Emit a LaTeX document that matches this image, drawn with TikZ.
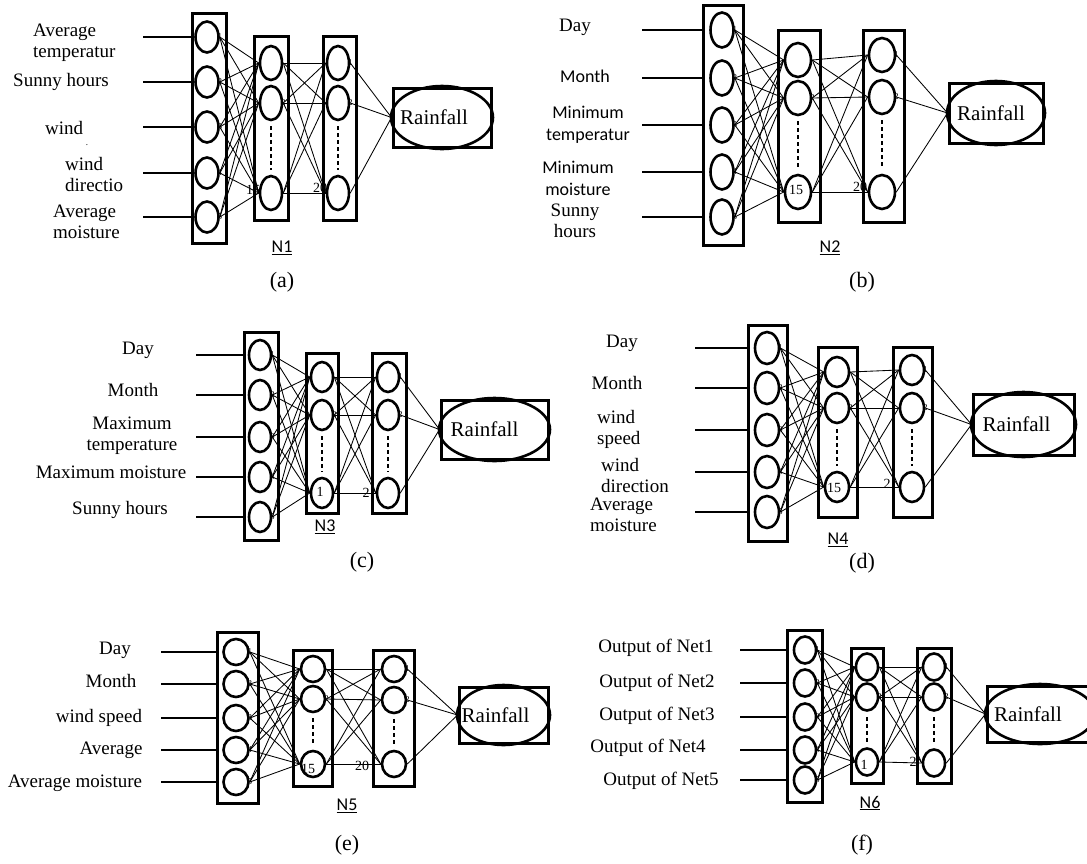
\documentclass[tikz,border=0pt]{standalone}
\usepackage{fontspec}
\setmainfont{Liberation Serif}
\newfontfamily\calfont{Carlito}
\usetikzlibrary{shapes.geometric}
\tikzset{
 layerbox/.style={draw, rectangle, line width=3pt, inner sep=0pt},
 neur/.style={draw, ellipse, line width=2.6pt, inner sep=0pt},
 conn/.style={line width=0.85pt},
 inputline/.style={line width=1.3pt},
 dotline/.style={line width=1.8pt, dash pattern=on 4pt off 3pt, shorten <=5pt, shorten >=5pt},
 lab/.style={font=\fontsize{19}{21}\selectfont, align=center, inner sep=0pt},
 sanslab/.style={font=\calfont\fontsize{18}{22}\selectfont, align=center, inner sep=0pt},
 numlab/.style={font=\fontsize{9}{9}\selectfont, inner sep=0pt},
 hidlab/.style={font=\fontsize{14}{14}\selectfont, inner sep=0pt},
 rainlab/.style={font=\fontsize{21}{23}\selectfont, inner sep=0pt},
 captext/.style={font=\fontsize{22}{24}\selectfont, inner sep=0pt},
 nlab/.style={font=\calfont\fontsize{18}{20}\selectfont, inner sep=0pt},
}
\newcommand\buildnet[1]{%
 \node[layerbox, minimum width=\nnIw pt, minimum height=\nnIh pt] (#1in) at (\nnIcx,\nnIcy) {};
 \foreach \yy [count=\k] in \nnIys {%
   \node[neur, minimum width=\nnEw pt, minimum height=\nnEh pt] (#1i\k) at (\nnIx,\yy) {};
   \node[numlab] (#1n\k) at (#1i\k.east) {\k};
   \coordinate (#1s\k) at (\nnSx,\yy);
   \draw[inputline] (#1s\k) -- (#1in.west |- #1i\k);
 }
 \node[layerbox, minimum width=\nnHw pt, minimum height=\nnHh pt] (#1hb) at (\nnHcx,\nnHcy) {};
 \foreach \yy [count=\k] in \nnHys {\node[neur, minimum width=\nnFw pt, minimum height=\nnFh pt] (#1h\k) at (\nnHx,\yy) {};}
 \node[layerbox, minimum width=\nnGw pt, minimum height=\nnHh pt] (#1gb) at (\nnGcx,\nnHcy) {};
 \foreach \yy [count=\k] in \nnGys {\node[neur, minimum width=\nnFw pt, minimum height=\nnFh pt] (#1g\k) at (\nnGx,\yy) {};}
 \node[layerbox, minimum width=\nnRw pt, minimum height=\nnRh pt] (#1rb) at (\nnRcx,\nnRcy) {};
 \node[neur, minimum width=\nnRw pt+4pt, minimum height=\nnRh pt+4pt] (#1re) at (#1rb.center) {};
 \node[rainlab] (#1rt) at ([xshift=\nnRs pt]#1rb.center) {Rainfall};
 \foreach \a in {1,...,5}{\foreach \b in {1,2,3}{\draw[conn] (#1i\a.east) -- (#1h\b.west);}}
 \foreach \a in {1,2,3}{\foreach \b in {1,2,3}{\draw[conn] (#1h\a.east) -- (#1g\b.west);}}
 \foreach \a in {1,2,3}{\draw[conn] (#1g\a.east) -- (#1rb.west);}
 \draw[dotline] (#1h2.south) -- (#1h3.north);
 \draw[dotline] (#1g2.south) -- (#1g3.north);
 \node[numlab] (#1hn2) at (#1h2.east) {2};
 \node[numlab] (#1gn1) at (#1g1.east) {1};
 \node[numlab] (#1gn2) at (#1g2.east) {2};
}
\begin{document}
\begin{tikzpicture}[x=1pt,y=-1pt]
\useasboundingbox (0,0) rectangle (1087,863);
% ---------------- (a)
\def\nnIcx{209}\def\nnIcy{128}\def\nnIw{34}\def\nnIh{230}\def\nnIx{207}\def\nnIys{37,82,127,173,217}\def\nnEw{23}\def\nnEh{31}\def\nnSx{143}
\def\nnHcx{271}\def\nnHcy{128}\def\nnHw{34}\def\nnHh{184}\def\nnHx{271}\def\nnHys{63,103,193}\def\nnFw{22}\def\nnFh{34}
\def\nnGcx{339.5}\def\nnGw{33}\def\nnGx{338}\def\nnGys{63,103,193}
\def\nnRcx{442}\def\nnRcy{117.5}\def\nnRw{98}\def\nnRh{59}\def\nnRs{-8}
\buildnet{a}
\node[lab, align=left, anchor=west] (al1) at (33,43) {Average\\temperatur};
\node[lab, anchor=west] (al2) at (13,82) {Sunny hours};
\node[lab, anchor=west] (al3) at (45,128) {wind};
\node[numlab] (al3d) at (87,145) {.};
\node[lab, align=left, anchor=west] (al4) at (65,174) {wind\\directio};
\node[lab, align=left, anchor=west] (al5) at (53,222) {Average\\moisture};
\node[hidlab] (ah15) at (253,190) {15};
\node[hidlab] (ag20) at (320,188) {20};
\node[nlab] (aN) at (282,248) {\underline{N1}};
\node[captext] (acap) at (282,282) {(a)};
% ---------------- (b)
\def\nnIcx{723}\def\nnIcy{125}\def\nnIw{40}\def\nnIh{240}\def\nnIx{722}\def\nnIys{30,78,125,172,217}\def\nnEw{23}\def\nnEh{35}\def\nnSx{642}
\def\nnHcx{799}\def\nnHcy{126}\def\nnHw{42}\def\nnHh{192}\def\nnHx{798}\def\nnHys{60,98,192}\def\nnFw{26}\def\nnFh{34}
\def\nnGcx{883.5}\def\nnGw{41}\def\nnGx{882}\def\nnGys{55,97,192}
\def\nnRcx{996}\def\nnRcy{113}\def\nnRw{94}\def\nnRh{60}\def\nnRs{-5}
\buildnet{b}
\node[lab] (bl1) at (575,27) {Day};
\node[sanslab] (bl2) at (585,76) {Month};
\node[sanslab] (bl3) at (588,125) {Minimum\\temperatur};
\node[sanslab] (bl4) at (578,178) {Minimum\\moisture};
\node[lab] (bl5) at (575,221) {Sunny\\hours};
\node[hidlab] (bh15) at (796,190) {15};
\node[hidlab] (bg20) at (860,187) {20};
\node[nlab] (bN) at (830,248) {\underline{N2}};
\node[captext] (bcap) at (862,282) {(b)};
% ---------------- (c)
\def\nnIcx{261}\def\nnIcy{436}\def\nnIw{34}\def\nnIh{208}\def\nnIx{260}\def\nnIys{355,395,437,477,517}\def\nnEw{22}\def\nnEh{30}\def\nnSx{196}
\def\nnHcx{322}\def\nnHcy{433}\def\nnHw{32}\def\nnHh{160}\def\nnHx{322}\def\nnHys{377,415,493}\def\nnFw{22}\def\nnFh{30}
\def\nnGcx{389}\def\nnGw{34}\def\nnGx{388}\def\nnGys{377,415,493}
\def\nnRcx{494.5}\def\nnRcy{429.5}\def\nnRw{107}\def\nnRh{59}\def\nnRs{-10}
\buildnet{c}
\node[lab] (cl1) at (138,350) {Day};
\node[lab] (cl2) at (133,390) {Month};
\node[lab] (cl3) at (132,436) {Maximum\\temperature};
\node[lab] (cl4) at (111,472) {Maximum moisture};
\node[lab] (cl5) at (120,510) {Sunny hours};
\node[hidlab] (ch15) at (320,492) {1};
\node[hidlab] (cg20) at (366,493) {2};
\node[nlab] (cN) at (325,527) {\underline{N3}};
\node[captext] (ccap) at (362,562) {(c)};
% ---------------- (d)
\def\nnIcx{767.5}\def\nnIcy{433}\def\nnIw{39}\def\nnIh{216}\def\nnIx{767}\def\nnIys{348,388,430,472,512}\def\nnEw{24}\def\nnEh{32}\def\nnSx{695}
\def\nnHcx{837.5}\def\nnHcy{432}\def\nnHw{39}\def\nnHh{170}\def\nnHx{837}\def\nnHys{372,408,487}\def\nnFw{24}\def\nnFh{30}
\def\nnGcx{912.5}\def\nnGw{39}\def\nnGx{912}\def\nnGys{370,408,487}
\def\nnRcx{1023.5}\def\nnRcy{424.5}\def\nnRw{101}\def\nnRh{61}\def\nnRs{-7}
\buildnet{d}
\node[lab] (dl1) at (622,343) {Day};
\node[lab] (dl2) at (617,383) {Month};
\node[lab, align=left, anchor=west] (dl3) at (597,429) {wind\\speed};
\node[lab, align=left, anchor=west] (dl4) at (601,475) {wind\\direction};
\node[lab, align=left, anchor=west] (dl5) at (590,515) {Average\\moisture};
\node[hidlab] (dh15) at (834,488) {15};
\node[hidlab] (dg20) at (887,484) {2};
\node[nlab] (dN) at (838,540) {\underline{N4}};
\node[captext] (dcap) at (862,563) {(d)};
% ---------------- (e)
\def\nnIcx{237.5}\def\nnIcy{717.5}\def\nnIw{41}\def\nnIh{171}\def\nnIx{236}\def\nnIys{652,684,718,750,782}\def\nnEw{25}\def\nnEh{26}\def\nnSx{161}
\def\nnHcx{312.5}\def\nnHcy{718}\def\nnHw{39}\def\nnHh{136}\def\nnHx{313}\def\nnHys{669,699,764}\def\nnFw{24}\def\nnFh{26}
\def\nnGcx{393.5}\def\nnGw{41}\def\nnGx{394}\def\nnGys{669,700,764}
\def\nnRcx{503.5}\def\nnRcy{715}\def\nnRw{89}\def\nnRh{56}\def\nnRs{-8}
\buildnet{e}
\node[lab] (el1) at (115,650) {Day};
\node[lab] (el2) at (111,681) {Month};
\node[lab] (el3) at (99,718) {wind speed};
\node[lab] (el4) at (111,750) {Average};
\node[lab] (el5) at (75,783) {Average moisture};
\node[hidlab] (eh15) at (308,769) {15};
\node[hidlab] (eg20) at (362,766) {20};
\node[nlab] (eN) at (347,806) {\underline{N5}};
\node[captext] (ecap) at (347,845) {(e)};
% ---------------- (f)
\def\nnIcx{804.5}\def\nnIcy{716}\def\nnIw{35}\def\nnIh{172}\def\nnIx{805}\def\nnIys{650,683,717,750,780}\def\nnEw{22}\def\nnEh{27}\def\nnSx{740}
\def\nnHcx{867}\def\nnHcy{715.5}\def\nnHw{32}\def\nnHh{135}\def\nnHx{867}\def\nnHys{667,697,762}\def\nnFw{22}\def\nnFh{27}
\def\nnGcx{934}\def\nnGw{34}\def\nnGx{934}\def\nnGys{667,697,763}
\def\nnRcx{1040}\def\nnRcy{714}\def\nnRw{106}\def\nnRh{56}\def\nnRs{-12}
\buildnet{f}
\node[lab] (fl1) at (656,648) {Output of Net1};
\node[lab] (fl2) at (657,683) {Output of Net2};
\node[lab] (fl3) at (657,716) {Output of Net3};
\node[lab] (fl4) at (648,748) {Output of Net4};
\node[lab] (fl5) at (661,781) {Output of Net5};
\node[hidlab] (fh15) at (864,765) {1};
\node[hidlab] (fg20) at (913,762) {2};
\node[nlab] (fN) at (870,803) {\underline{N6}};
\node[captext] (fcap) at (862,845) {(f)};
\end{tikzpicture}
\end{document}
